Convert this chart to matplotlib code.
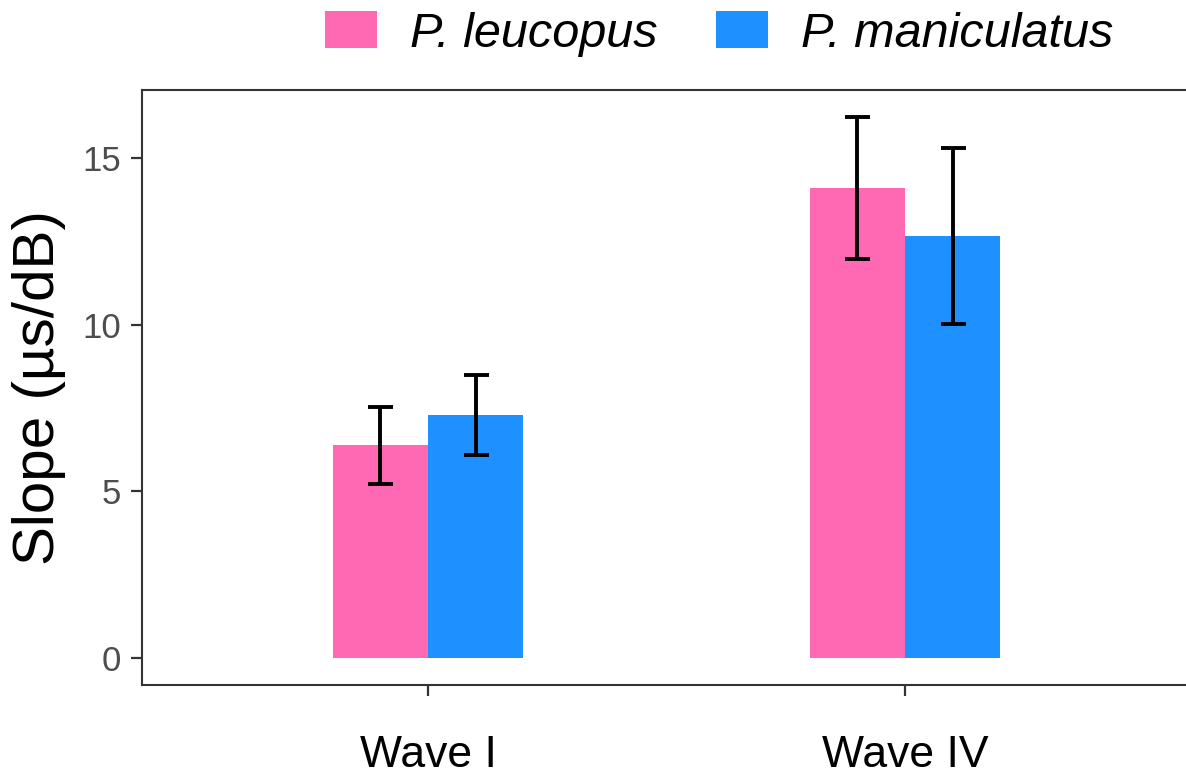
import matplotlib
matplotlib.use("Agg")
import matplotlib.pyplot as plt
from matplotlib.patches import Patch
import numpy as np

categories = ["Wave I", "Wave IV"]
species = ["P. leucopus", "P. maniculatus"]
means = {
    "P. leucopus": [6.38, 14.10],
    "P. maniculatus": [7.28, 12.66],
}
err_low = {
    "P. leucopus": [5.21, 11.98],
    "P. maniculatus": [6.08, 10.03],
}
err_high = {
    "P. leucopus": [7.54, 16.23],
    "P. maniculatus": [8.50, 15.30],
}
colors = {"P. leucopus": "#FF69B4", "P. maniculatus": "#1E90FF"}
yticks = [0, 5, 10, 15]

plt.rcParams['font.family'] = ['Liberation Sans', 'DejaVu Sans']

W, H = 1186, 778
fig = plt.figure(figsize=(W / 100, H / 100), dpi=100)
ax = fig.add_axes([142 / W, (H - 685) / H, (1191 - 142) / W, (685 - 90) / H])

x = np.arange(1, len(categories) + 1)
bw = 0.2
offsets = [-bw / 2, bw / 2]
for sp, off in zip(species, offsets):
    m = np.array(means[sp])
    lo = m - np.array(err_low[sp])
    hi = np.array(err_high[sp]) - m
    ax.bar(x + off, m, width=bw, color=colors[sp], edgecolor='none', zorder=2)
    ax.errorbar(x + off, m, yerr=[lo, hi], fmt='none', ecolor='black',
                elinewidth=2.8, capsize=9, capthick=2.8, zorder=3)

ax.set_xlim(0.4, 2.6)
ax.set_ylim(-0.81, 17.04)
ax.set_xticks(x)
ax.set_xticklabels(categories, fontsize=32, color='black')
ax.set_yticks(yticks)
ax.set_yticklabels([str(t) for t in yticks], fontsize=25, color='#4D4D4D')
ax.tick_params(axis='both', length=8, width=1.6, color='#333333')
ax.tick_params(axis='y', pad=7)
ax.tick_params(axis='x', pad=28)
ax.set_ylabel("Slope (µs/dB)", fontsize=42, labelpad=12)

for s in ['left', 'bottom', 'top', 'right']:
    ax.spines[s].set_color('#333333')
    ax.spines[s].set_linewidth(1.5)

handles = [Patch(facecolor=colors[sp], edgecolor='none', label=sp) for sp in species]
fig.legend(handles=handles, loc='center', bbox_to_anchor=(719 / W, 1 - 34 / H),
           ncol=2, frameon=False, prop={'style': 'italic', 'size': 35},
           handlelength=1.07, handleheight=0.8, handletextpad=0.68, columnspacing=1.2)

fig.savefig("out.png", dpi=100)
